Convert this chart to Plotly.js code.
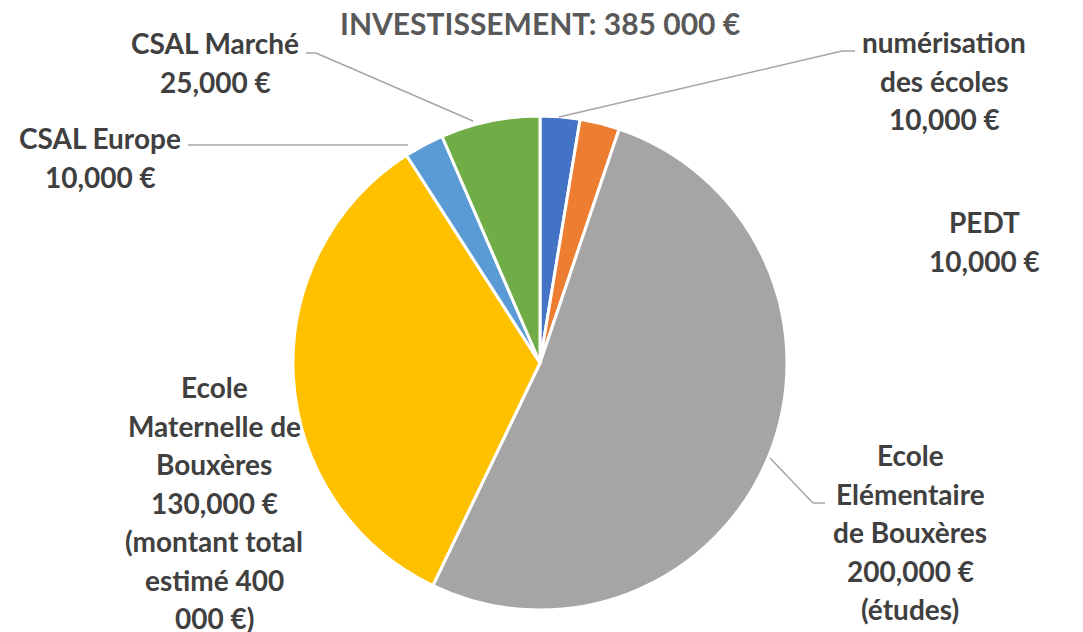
<!DOCTYPE html>
<html>
<head>
<meta charset="utf-8">
<script src="https://cdn.plot.ly/plotly-3.0.1.min.js"></script>
<style>html,body{margin:0;padding:0;background:#fff;}#chart{width:1083px;height:632px;}</style>
</head>
<body>
<div id="chart"></div>
<script>
// ---- data ----
const categories = ["numérisation des écoles", "PEDT", "Ecole Elémentaire de Bouxères", "Ecole Maternelle de Bouxères", "CSAL Europe", "CSAL Marché"];
const values = [10000, 10000, 200000, 130000, 10000, 25000];
const notes = ["", "", "(études)", "(montant total estimé 400 000 €)", "", ""];
const titleText = "INVESTISSEMENT: 385 000 €";

// ---- styles / layout ----
const colors = ["#4472C4", "#ED7D31", "#A5A5A5", "#FFC000", "#5B9BD5", "#70AD47"];
const W = 1083, H = 632;
// wrapped label lines (name part, note part), label centre x and first line y (px)
const labelLayout = [
  {name: ["numérisation", "des écoles"], note: [], cx: 944, y0: 42},
  {name: ["PEDT"], note: [], cx: 984, y0: 222},
  {name: ["Ecole", "Elémentaire", "de Bouxères"], note: ["(études)"], cx: 910, y0: 455},
  {name: ["Ecole", "Maternelle de", "Bouxères"], note: ["(montant total", "estimé 400", "000 €)"], cx: 214, y0: 387},
  {name: ["CSAL Europe"], note: [], cx: 100, y0: 138},
  {name: ["CSAL Marché"], note: [], cx: 215, y0: 43}
];
const lineGap = 38.5;
// leader lines in px
const leaders = [
  [[559,117],[842,51],[855,51]],
  null,
  [[770,458],[813,503],[825,503]],
  null,
  [[188,145],[408,145]],
  [[306,53],[316,53],[473,121]]
];

const X = p => p / W, Y = p => 1 - p / H;
const fmt = v => v.toLocaleString("en-US") + " €";

const annotations = [];
labelLayout.forEach((L, i) => {
  const lines = L.name.concat([fmt(values[i])]).concat(L.note);
  lines.forEach((t, k) => {
    annotations.push({
      text: t, xref: "paper", yref: "paper", x: X(L.cx), y: Y(L.y0 + k * lineGap),
      xanchor: "center", yanchor: "middle", showarrow: false,
      font: {family: "Lato, sans-serif", size: 28, weight: 700, color: "#404040"}
    });
  });
});
annotations.push({
  text: titleText, xref: "paper", yref: "paper", x: X(540), y: Y(23),
  xanchor: "center", yanchor: "middle", showarrow: false,
  font: {family: "Lato, sans-serif", size: 30, weight: 700, color: "#595959"}
});

const shapes = [];
leaders.forEach(seg => {
  if (!seg) return;
  for (let k = 0; k < seg.length - 1; k++) {
    shapes.push({type: "line", xref: "paper", yref: "paper",
      x0: X(seg[k][0]), y0: Y(seg[k][1]), x1: X(seg[k+1][0]), y1: Y(seg[k+1][1]),
      line: {color: "#A6A6A6", width: 1.5}});
  }
});

const cx = 540, cy = 363, r = 247;
const trace = {
  type: "pie", labels: categories, values: values, sort: false, direction: "clockwise", rotation: 0,
  textinfo: "none", hoverinfo: "label+value",
  marker: {colors: colors, line: {color: "#FFFFFF", width: 3}},
  domain: {x: [X(cx - r), X(cx + r)], y: [Y(cy + r), Y(cy - r)]},
  showlegend: false
};

Plotly.newPlot("chart", [trace], {
  width: W, height: H, margin: {l: 0, r: 0, t: 0, b: 0},
  paper_bgcolor: "#FFFFFF", showlegend: false,
  annotations: annotations, shapes: shapes
}, {displayModeBar: false, staticPlot: true});
</script>
</body>
</html>
